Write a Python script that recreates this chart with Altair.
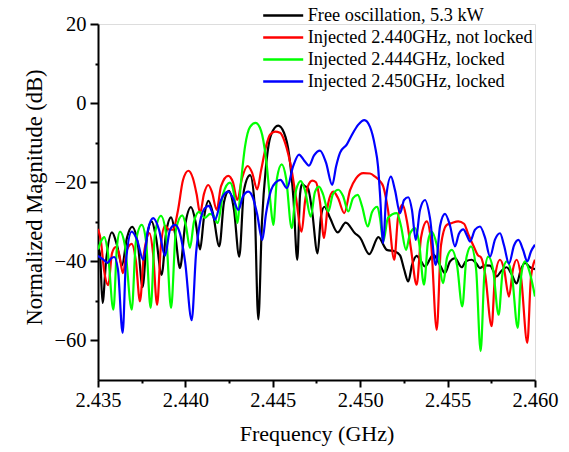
import altair as alt
import pandas as pd

series_names = ["Free oscillation, 5.3 kW", "Injected 2.440GHz, not locked",
                "Injected 2.444GHz, locked", "Injected 2.450GHz, locked"]
series_colors = ["#000000", "#ff0000", "#00ff00", "#0000ff"]

free_f = [2.43500, 2.43511, 2.43526, 2.43546, 2.43580, 2.43609, 2.43637, 2.43666, 2.43695, 2.43729,
          2.43755, 2.43780, 2.43807, 2.43832, 2.43864, 2.43889, 2.43918, 2.43941, 2.43969, 2.43998,
          2.44032, 2.44058, 2.44084, 2.44106, 2.44132, 2.44158, 2.44194, 2.44221, 2.44249, 2.44278,
          2.44308, 2.44335, 2.44370, 2.44395, 2.44417, 2.44438, 2.44461, 2.44490, 2.44531, 2.44564,
          2.44593, 2.44618, 2.44640, 2.44656, 2.44667, 2.44684, 2.44701, 2.44724, 2.44756, 2.44776,
          2.44795, 2.44827, 2.44871, 2.44917, 2.44970, 2.44999, 2.45052, 2.45104, 2.45152, 2.45199,
          2.45228, 2.45251, 2.45275, 2.45296, 2.45323, 2.45342, 2.45371, 2.45418, 2.45457, 2.45485,
          2.45514, 2.45542, 2.45581, 2.45605, 2.45638, 2.45663, 2.45685, 2.45714, 2.45743, 2.45781,
          2.45806, 2.45838, 2.45863, 2.45895, 2.45920, 2.45943, 2.45971, 2.46000]
free_db = [-36.5, -38, -50.5, -40, -32.7, -36, -41, -34, -31.3, -36,
           -46.5, -34, -29.9, -34, -43.4, -33, -28.9, -33, -41.7, -31,
           -26.3, -30, -37, -29, -24.7, -28, -36.2, -25, -22.2, -27,
           -38.8, -22, -18.2, -25, -54.7, -30, -16, -8, -5.7, -7.5,
           -13, -24, -39.6, -23, -20.5, -21, -21.5, -27, -38, -28.5,
           -26.2, -29, -32.7, -30.2, -32.9, -34, -38.2, -33.9, -37.1, -37.5,
           -38.5, -42, -45.1, -41, -38.6, -39.5, -41.3, -38.3, -41, -43,
           -40, -39.2, -41.5, -40, -39.6, -40.5, -41.7, -41, -41.1, -43.8,
           -42.5, -41.5, -43, -45.6, -42, -40.4, -41.5, -42]

inj440_f = [2.43500, 2.43517, 2.43534, 2.43559, 2.43580, 2.43601, 2.43620, 2.43643, 2.43666, 2.43693,
            2.43717, 2.43740, 2.43763, 2.43795, 2.43815, 2.43838, 2.43860, 2.43883, 2.43906, 2.43929,
            2.43958, 2.43986, 2.44017, 2.44043, 2.44064, 2.44084, 2.44106, 2.44131, 2.44152, 2.44179,
            2.44204, 2.44245, 2.44272, 2.44297, 2.44324, 2.44356, 2.44381, 2.44411, 2.44433, 2.44461,
            2.44484, 2.44513, 2.44541, 2.44570, 2.44589, 2.44610, 2.44633, 2.44665, 2.44684, 2.44701,
            2.44726, 2.44747, 2.44770, 2.44793, 2.44816, 2.44846, 2.44873, 2.44909, 2.44942, 2.44976,
            2.45018, 2.45056, 2.45085, 2.45113, 2.45132, 2.45159, 2.45195, 2.45216, 2.45241, 2.45268,
            2.45291, 2.45323, 2.45348, 2.45381, 2.45405, 2.45438, 2.45462, 2.45495, 2.45525, 2.45561,
            2.45594, 2.45617, 2.45647, 2.45674, 2.45691, 2.45714, 2.45752, 2.45771, 2.45800, 2.45823,
            2.45851, 2.45874, 2.45895, 2.45920, 2.45956, 2.45977, 2.46000]
inj440_db = [-31.8, -35, -42, -46, -38, -36.4, -38, -43, -37, -35.6,
             -40, -50.1, -38, -32.9, -38, -51, -36, -31, -32, -32,
             -27, -19.5, -17.1, -19, -23, -27.8, -23, -20.7, -22.5, -27,
             -21, -18.4, -20, -24.5, -19, -15.9, -17.5, -21.8, -17, -11,
             -8, -7.2, -7.5, -10, -13, -17.5, -24, -32.5, -25, -21,
             -19.6, -20, -25, -34.1, -25.5, -22.4, -24, -27.8, -22, -19,
             -17.7, -17.8, -18.6, -19.7, -21.1, -27, -39.6, -29, -25.7, -30,
             -37, -45.9, -34, -29.9, -35, -57.3, -36, -30.8, -30.3, -29.9,
             -30.5, -33, -36, -38.5, -39, -43, -56.4, -44, -39.6, -42,
             -48.9, -42, -39.6, -44, -60.6, -44, -39.6]

inj444_f = [2.43500, 2.43517, 2.43536, 2.43557, 2.43588, 2.43609, 2.43626, 2.43654, 2.43693, 2.43717,
            2.43750, 2.43775, 2.43801, 2.43826, 2.43860, 2.43889, 2.43918, 2.43946, 2.43982, 2.44003,
            2.44026, 2.44049, 2.44078, 2.44112, 2.44141, 2.44161, 2.44185, 2.44215, 2.44255, 2.44278,
            2.44297, 2.44318, 2.44341, 2.44370, 2.44402, 2.44433, 2.44461, 2.44484, 2.44503, 2.44524,
            2.44551, 2.44576, 2.44608, 2.44633, 2.44660, 2.44684, 2.44717, 2.44741, 2.44764, 2.44787,
            2.44818, 2.44844, 2.44875, 2.44902, 2.44932, 2.44959, 2.44986, 2.45010, 2.45043, 2.45068,
            2.45098, 2.45113, 2.45132, 2.45159, 2.45209, 2.45233, 2.45262, 2.45285, 2.45314, 2.45336,
            2.45365, 2.45388, 2.45409, 2.45439, 2.45475, 2.45497, 2.45524, 2.45554, 2.45584, 2.45608,
            2.45634, 2.45663, 2.45689, 2.45711, 2.45733, 2.45760, 2.45792, 2.45814, 2.45838, 2.45869,
            2.45901, 2.45920, 2.45943, 2.45971, 2.46000]
inj444_db = [-37, -35, -33.9, -38, -52.2, -36, -32.5, -36, -52.2, -35,
             -30.8, -35, -51.8, -33, -28.5, -33, -51.8, -32, -28.4, -31,
             -36.6, -30, -27.5, -29, -28, -28.5, -30.3, -23, -20.1, -23,
             -30.3, -20, -11, -6, -5, -7, -14, -24, -30.8, -19,
             -15.5, -19, -31.6, -22, -19.7, -22, -28.7, -22.5, -21.1, -23,
             -27.4, -23, -21.9, -23.5, -27.4, -24, -23.2, -26, -31.2, -27.5,
             -26.2, -29, -35, -29, -27.8, -31, -37.1, -33, -31.6, -35,
             -45.9, -35, -32.5, -36, -45.5, -39, -37.1, -41, -51.4, -39,
             -36.2, -42, -62.7, -43, -38.8, -42, -53.5, -43, -40, -44,
             -56.8, -44, -40, -43, -48.9]

inj450_f = [2.43500, 2.43529, 2.43555, 2.43574, 2.43593, 2.43614, 2.43641, 2.43660, 2.43693, 2.43723,
            2.43759, 2.43786, 2.43816, 2.43849, 2.43883, 2.43912, 2.43941, 2.43969, 2.43998, 2.44036,
            2.44061, 2.44084, 2.44112, 2.44135, 2.44152, 2.44169, 2.44204, 2.44245, 2.44272, 2.44303,
            2.44330, 2.44360, 2.44387, 2.44410, 2.44440, 2.44461, 2.44490, 2.44518, 2.44544, 2.44581,
            2.44616, 2.44650, 2.44679, 2.44707, 2.44736, 2.44770, 2.44804, 2.44840, 2.44862, 2.44885,
            2.44923, 2.44953, 2.44988, 2.45024, 2.45056, 2.45085, 2.45102, 2.45113, 2.45132, 2.45148,
            2.45176, 2.45199, 2.45228, 2.45251, 2.45275, 2.45296, 2.45318, 2.45342, 2.45371, 2.45399,
            2.45432, 2.45457, 2.45485, 2.45514, 2.45542, 2.45565, 2.45590, 2.45611, 2.45628, 2.45657,
            2.45685, 2.45714, 2.45743, 2.45771, 2.45800, 2.45823, 2.45851, 2.45880, 2.45905, 2.45931,
            2.45956, 2.45977, 2.46000]
inj450_db = [-38.6, -39.5, -40.4, -39.3, -38.9, -42, -58.1, -40, -32.5, -34.5,
             -39.6, -32, -29.1, -32, -38.6, -32, -30.8, -33, -40, -54.9,
             -38, -30, -26.5, -26, -27.5, -29.5, -24.5, -22.4, -24, -27,
             -23.5, -22.4, -24, -28, -34.6, -28, -22, -20, -19.4, -21.5,
             -16, -13, -14.5, -15.8, -13.2, -12, -15, -20.7, -16, -12.5,
             -10.5, -8, -5.5, -4.3, -6, -11, -16, -22.8, -35.4, -24,
             -18.6, -22, -27.8, -24.5, -23.8, -27, -34.6, -27, -24.5, -29,
             -40.9, -31, -28, -31, -36.2, -33, -31.9, -33.5, -35, -32,
             -31.2, -34, -38.8, -34.5, -32.9, -36, -40.6, -36, -34.6, -37,
             -40, -37.5, -35.8]

y_major = [-60, -40, -20, 0, 20]
y_minor = [-50, -30, -10, 10]
x_major = [2.435, 2.44, 2.445, 2.45, 2.455, 2.46]
x_minor = [2.4375, 2.4425, 2.4475, 2.4525, 2.4575]

frames = []
for name, fs, dbs in zip(series_names,
                         [free_f, inj440_f, inj444_f, inj450_f],
                         [free_db, inj440_db, inj444_db, inj450_db]):
    frames.append(pd.DataFrame({"f": fs, "db": dbs, "series": name, "idx": range(len(fs))}))
df = pd.concat(frames, ignore_index=True)

FONT = "Liberation Serif"
xscale = alt.Scale(domain=[2.435, 2.46], nice=False, zero=False)
yscale = alt.Scale(domain=[-70, 20], nice=False, zero=False)

lines = alt.Chart(df).mark_line(strokeWidth=2.2, interpolate="monotone", clip=True).encode(
    x=alt.X("f:Q", scale=xscale,
            axis=alt.Axis(title="Frequency (GHz)", values=x_major, format=".3f", orient="bottom",
                          tickSize=7, grid=False, domainColor="black", domainWidth=2,
                          tickColor="black", tickWidth=2,
                          labelFont=FONT, labelFontSize=20.5, labelColor="black", labelPadding=3,
                          labelFlush=False, labelOverlap=False,
                          titleFont=FONT, titleFontSize=22, titleFontWeight="normal",
                          titleColor="black", titlePadding=13)),
    y=alt.Y("db:Q", scale=yscale,
            axis=alt.Axis(title="Normalized Magnitude (dB)", values=y_major, orient="left",
                          tickSize=8, grid=False, domainColor="black", domainWidth=2,
                          tickColor="black", tickWidth=2,
                          labelFont=FONT, labelFontSize=20.5, labelColor="black", labelPadding=4,
                          labelOverlap=False,
                          titleFont=FONT, titleFontSize=22.5, titleFontWeight="normal",
                          titleColor="black", titleX=-52, titleY=173)),
    color=alt.Color("series:N",
                    scale=alt.Scale(domain=series_names, range=series_colors),
                    legend=alt.Legend(title=None, orient="none", legendX=173.7, legendY=-20,
                                      symbolType="M-2,0H2", symbolSize=400, symbolStrokeWidth=2.5,
                                      labelFont=FONT, labelFontSize=18.3, labelColor="black",
                                      labelLimit=400, labelOffset=13, rowPadding=2, padding=0)),
    order="idx:Q",
)

minor = alt.Chart(df).mark_point(opacity=0).encode(
    x=alt.X("f:Q", scale=xscale,
            axis=alt.Axis(title=None, values=x_minor, labels=False, domain=False, orient="bottom",
                          tickSize=3, tickColor="black", tickWidth=2, grid=False)),
    y=alt.Y("db:Q", scale=yscale,
            axis=alt.Axis(title=None, values=y_minor, labels=False, domain=False, orient="left",
                          tickSize=3, tickColor="black", tickWidth=2, grid=False)),
)

chart = alt.layer(lines, minor).resolve_axis(x="independent", y="independent").properties(
    width=437, height=356,
    autosize=alt.AutoSizeParams(type="none"),
    padding={"left": 98, "top": 24, "right": 34, "bottom": 72},
).configure_view(stroke=None).configure(background="white", font=FONT).configure_axis(
    labelFont=FONT, titleFont=FONT
)

chart.save("out.html", embed_options={"renderer": "svg", "actions": False})
